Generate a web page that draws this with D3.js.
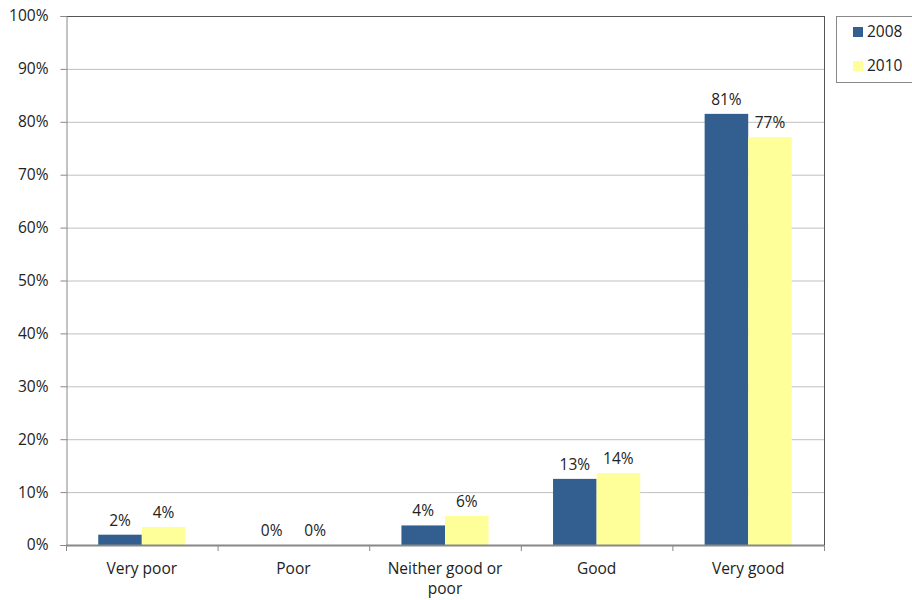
<!DOCTYPE html>
<html><head><meta charset="utf-8">
<script src="https://cdn.jsdelivr.net/npm/d3@7"></script>
<style>body{margin:0;background:#fff}svg{display:block}text{font-family:"Open Sans",Arial,sans-serif;fill:#222}</style>
</head><body><svg id="c" width="912" height="600"></svg>
<script>
const categories = ["Very poor", "Poor", "Neither good or poor", "Good", "Very good"];
const seriesNames = ["2008", "2010"];
const values2008 = [1.95, 0, 3.7, 12.5, 81.5];
const values2010 = [3.4, 0, 5.5, 13.6, 77.1];
const labels2008 = ["2%", "0%", "4%", "13%", "81%"];
const labels2010 = ["4%", "0%", "6%", "14%", "77%"];
const yTicks = [0,10,20,30,40,50,60,70,80,90,100];
const colors = ["#335F90", "#FFFF99"];

const FONT = "Open Sans, Arial, sans-serif";
const FS = 15.5;
const svg = d3.select("#c");
const L=66, R=824, T=16, B=545;
const x = d3.scaleBand().domain(categories).range([L,R]);
const x1 = d3.scaleBand().domain(seriesNames).range([0,x.bandwidth()]).paddingOuter(0.74).paddingInner(0);
const y = d3.scaleLinear().domain([0,100]).range([B,T]);

// gridlines
svg.append("g").selectAll("line").data(yTicks.slice(1)).join("line")
  .attr("x1",L).attr("x2",R).attr("y1",d=>y(d)+0.5).attr("y2",d=>y(d)+0.5)
  .attr("stroke",d=>d===100?"#555":"#c0c0c0").attr("stroke-width",1);
// right border
svg.append("line").attr("x1",R+0.5).attr("x2",R+0.5).attr("y1",T).attr("y2",B).attr("stroke","#555");

const series = [values2008, values2010];
const labs = [labels2008, labels2010];
series.forEach((vals,si)=>{
  const g = svg.append("g");
  g.selectAll("rect").data(categories).join("rect")
    .attr("x",c=>x(c)+x1(seriesNames[si]))
    .attr("width",x1.bandwidth())
    .attr("y",(c,i)=>y(vals[i]))
    .attr("height",(c,i)=>B-y(vals[i]))
    .attr("fill",colors[si]);
  g.selectAll("text").data(categories).join("text")
    .attr("x",c=>x(c)+x1(seriesNames[si])+x1.bandwidth()/2)
    .attr("y",(c,i)=>y(vals[i])-9)
    .attr("text-anchor","middle").attr("font-size",FS)
    .text((c,i)=>labs[si][i]);
});

// y axis
const ya = svg.append("g").attr("transform",`translate(${L+0.5},0)`)
  .call(d3.axisLeft(y).tickValues(yTicks).tickFormat(d=>d+"%").tickSize(6).tickPadding(12));
ya.select(".domain").attr("stroke","#888");
ya.selectAll(".tick line").attr("stroke","#888");
ya.selectAll("text").attr("font-size",FS).attr("font-family",FONT).attr("fill","#222");

// x axis
const xa = svg.append("g").attr("transform",`translate(0,${B+0.5})`)
  .call(d3.axisBottom(x).tickSize(0).tickPadding(0));
xa.select(".domain").attr("stroke","#888").attr("stroke-width",2).attr("d",`M${L},0H${R}`);
xa.selectAll("text").attr("font-size",FS).attr("font-family",FONT).attr("fill","#222")
  .attr("dy",null).attr("y",28.5)
  .each(function(d){
    if(d==="Neither good or poor"){
      const t=d3.select(this); t.text(null);
      t.append("tspan").attr("x",0).text("Neither good or");
      t.append("tspan").attr("x",0).attr("dy",20).text("poor");
    }
  });
// category separator ticks
svg.append("g").selectAll("line").data(d3.range(categories.length+1)).join("line")
  .attr("x1",i=>L+i*x.step()+0.5).attr("x2",i=>L+i*x.step()+0.5)
  .attr("y1",B).attr("y2",B+6).attr("stroke","#888");

// legend
const lg = svg.append("g");
lg.append("rect").attr("x",836.5).attr("y",16.5).attr("width",80).attr("height",66).attr("fill","#fff").attr("stroke","#888");
seriesNames.forEach((s,i)=>{
  lg.append("rect").attr("x",853).attr("y",27+i*34).attr("width",10).attr("height",10).attr("fill",colors[i]);
  lg.append("text").attr("x",867).attr("y",37+i*34).attr("font-size",FS).text(s);
});
</script></body></html>
